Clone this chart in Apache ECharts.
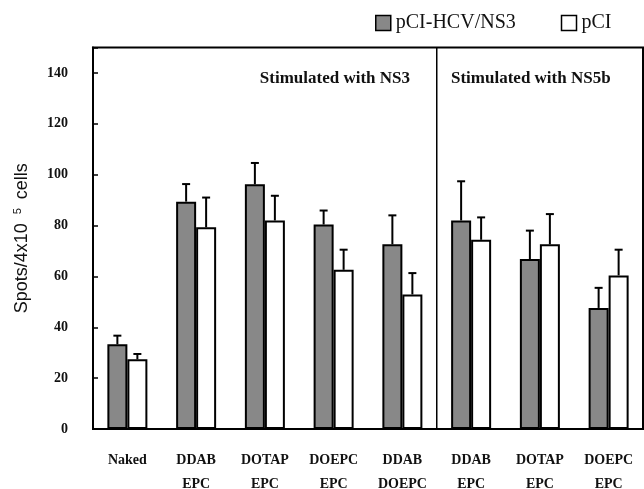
<!DOCTYPE html>
<html>
<head>
<meta charset="utf-8">
<script src="https://cdn.jsdelivr.net/npm/echarts@6/dist/echarts.min.js"></script>
<style>html,body{margin:0;padding:0;background:#fff;}#chart{width:644px;height:489px;}</style>
</head>
<body>
<div id="chart"></div>
<script>
var categories = ['Naked', 'DDAB\nEPC', 'DOTAP\nEPC', 'DOEPC\nEPC', 'DDAB\nDOEPC', 'DDAB\nEPC', 'DOTAP\nEPC', 'DOEPC\nEPC'];
var ns3Values = [33.3, 89.4, 96.2, 80.4, 72.6, 82.0, 66.8, 47.6];
var ns3Errors = [3.4, 6.9, 8.4, 5.5, 11.4, 15.4, 11.2, 7.9];
var pciValues = [27.4, 79.3, 82.0, 62.6, 52.9, 74.4, 72.6, 60.4];
var pciErrors = [2.1, 11.7, 9.7, 7.9, 8.4, 8.8, 11.9, 10.1];
var yTicks = [0, 20, 40, 60, 80, 100, 120, 140];
var dividerBefore = [5];   // the NS5b group starts at category index 5

var BAR_W = 20;
function errData(vals, errs) {
  return vals.map(function (v, i) { return [i, v, v + errs[i]]; });
}
function errSeries(vals, errs, side) {
  return {
    type: 'custom',
    z: 5,
    silent: true,
    data: errData(vals, errs),
    renderItem: function (params, api) {
      var base = api.coord([api.value(0), api.value(1)]);
      var top = api.coord([api.value(0), api.value(2)]);
      var x = base[0] + side * BAR_W / 2;
      return {
        type: 'group',
        children: [
          { type: 'line', shape: { x1: x, y1: base[1], x2: x, y2: top[1] }, style: { stroke: '#000', lineWidth: 2 } },
          { type: 'line', shape: { x1: x - 4, y1: top[1], x2: x + 4, y2: top[1] }, style: { stroke: '#000', lineWidth: 2 } }
        ]
      };
    }
  };
}

var chart = echarts.init(document.getElementById('chart'));
chart.setOption({
  animation: false,
  backgroundColor: '#fff',
  title: [
    { text: 'Stimulated with NS3', right: 229, top: 65, textStyle: { fontFamily: 'Liberation Serif', fontSize: 17, fontWeight: 'bold', color: '#111' } },
    { text: 'Stimulated with NS5b', left: 446, top: 65, textStyle: { fontFamily: 'Liberation Serif', fontSize: 17, fontWeight: 'bold', color: '#111' } }
  ],
  legend: {
    left: 370, top: 8,
    itemWidth: 15, itemHeight: 15, itemGap: 45,
    textStyle: { fontFamily: 'Liberation Serif', fontSize: 20, color: '#111' },
    data: [
      { name: 'pCI-HCV/NS3', icon: 'rect', itemStyle: { color: '#888', borderColor: '#000', borderWidth: 1.5 } },
      { name: 'pCI', icon: 'rect', itemStyle: { color: '#fff', borderColor: '#000', borderWidth: 1.5 } }
    ]
  },
  grid: { left: 93, right: 1, top: 47.5, bottom: 60, outerBoundsMode: 'none', containLabel: false, show: true, borderColor: '#000', borderWidth: 2, backgroundColor: 'transparent' },
  xAxis: {
    type: 'category',
    data: categories,
    boundaryGap: true,
    axisLine: { lineStyle: { color: '#000', width: 2 } },
    axisTick: { show: false },
    splitLine: { show: false },
    axisLabel: { interval: 0, margin: 19, fontFamily: 'Liberation Serif', fontSize: 14, fontWeight: 'bold', lineHeight: 24, color: '#111' }
  },
  yAxis: {
    type: 'value',
    min: 0, max: 150, interval: 20,
    name: '{n|Spots/4x10 }{s|5}{n| cells}',
    nameLocation: 'middle',
    nameGap: 61,
    nameRotate: 90,
    nameTextStyle: {
      rich: {
        n: { fontFamily: 'Liberation Sans', fontSize: 18, color: '#111' },
        s: { fontFamily: 'Liberation Sans', fontSize: 11, color: '#111', padding: [0, 4, 9, 4] }
      }
    },
    axisLine: { show: true, lineStyle: { color: '#000', width: 2 } },
    axisTick: { show: true, inside: true, length: 5, lineStyle: { color: '#000', width: 1.5 } },
    splitLine: { show: false },
    axisLabel: {
      margin: 25, fontFamily: 'Liberation Serif', fontSize: 14, fontWeight: 'bold', color: '#111',
      formatter: function (v) { return yTicks.indexOf(v) >= 0 ? String(v) : ''; }
    }
  },
  series: [
    { name: 'pCI-HCV/NS3', type: 'bar', data: ns3Values, barWidth: BAR_W, barGap: '0%', itemStyle: { color: '#888', borderColor: '#000', borderWidth: 2 } },
    { name: 'pCI', type: 'bar', data: pciValues, barWidth: BAR_W, barGap: '0%', itemStyle: { color: '#fff', borderColor: '#000', borderWidth: 2 } },
    errSeries(ns3Values, ns3Errors, -1),
    errSeries(pciValues, pciErrors, 1),
    {
      type: 'custom',
      silent: true,
      z: 1,
      data: dividerBefore.map(function (i) { return [i, 0]; }),
      renderItem: function (params, api) {
        var c = api.coord([api.value(0), 0]);
        var band = api.size([1, 0])[0];
        var x = c[0] - band / 2;
        var cs = params.coordSys;
        return { type: 'line', shape: { x1: x, y1: cs.y, x2: x, y2: cs.y + cs.height }, style: { stroke: '#000', lineWidth: 1.5 } };
      }
    }
  ]
});
</script>
</body>
</html>
